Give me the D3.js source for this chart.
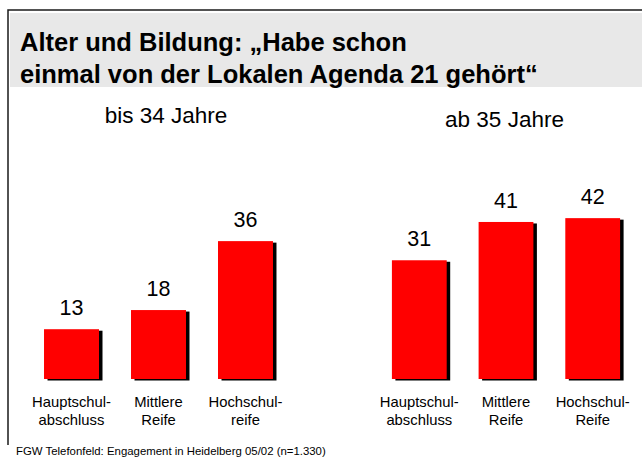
<!DOCTYPE html>
<html>
<head>
<meta charset="utf-8">
<script src="https://cdn.jsdelivr.net/npm/d3@7"></script>
<style>
  html, body { margin: 0; padding: 0; background: #fff; }
  svg { display: block; font-family: "Liberation Sans", Arial, sans-serif; }
</style>
</head>
<body>
<svg id="chart" width="642" height="458"></svg>
<script>
const titleLines = ["Alter und Bildung: \u201EHabe schon", "einmal von der Lokalen Agenda 21 geh\u00F6rt\u201C"];
const groupTitles = ["bis 34 Jahre", "ab 35 Jahre"];
const categoriesYoung = ["Hauptschul-|abschluss", "Mittlere|Reife", "Hochschul-|reife"];
const categoriesOld = ["Hauptschul-|abschluss", "Mittlere|Reife", "Hochschul-|Reife"];
const valuesYoung = [13, 18, 36];
const valuesOld = [31, 41, 42];
const footnote = "FGW Telefonfeld: Engagement in Heidelberg 05/02 (n=1.330)";

const svg = d3.select("#chart");

// frame
svg.append("rect").attr("x", 10).attr("y", 13).attr("width", 632).attr("height", 74).attr("fill", "#e8e8e8");
svg.append("path").attr("d", "M8,445 V10 H642").attr("fill", "none").attr("stroke", "#1a1a1a").attr("stroke-width", 1.5);

// title
svg.append("g").selectAll("text").data(titleLines).join("text")
  .attr("x", 20).attr("y", (d, i) => 51 + i * 32)
  .attr("font-size", 25.5).attr("font-weight", "bold").attr("fill", "#000")
  .text(d => d);

const y = d3.scaleLinear().domain([0, 100]).range([379, -4]);

const panels = [
  { title: groupTitles[0], cats: categoriesYoung, vals: valuesYoung, range: [12, 305], tx: 166, ty: 123 },
  { title: groupTitles[1], cats: categoriesOld, vals: valuesOld, range: [360, 652], tx: 504.5, ty: 126.5 }
];

panels.forEach(p => {
  const x = d3.scaleBand().domain(p.cats).range(p.range).padding(0.368);
  const data = p.cats.map((c, i) => ({ c, v: p.vals[i] }));
  const g = svg.append("g");

  g.append("text").attr("x", p.tx).attr("y", p.ty).attr("text-anchor", "middle")
    .attr("font-size", 22.5).attr("fill", "#000").text(p.title);

  // shadows
  g.selectAll("rect.sh").data(data).join("rect").attr("class", "sh")
    .attr("x", d => x(d.c) + 3.5).attr("y", d => y(d.v) + 1.5)
    .attr("width", x.bandwidth()).attr("height", d => y(0) - y(d.v))
    .attr("fill", "#000");
  // bars
  g.selectAll("rect.bar").data(data).join("rect").attr("class", "bar")
    .attr("x", d => x(d.c)).attr("y", d => y(d.v))
    .attr("width", x.bandwidth()).attr("height", d => y(0) - y(d.v))
    .attr("fill", "#ff0000");
  // values
  g.selectAll("text.val").data(data).join("text").attr("class", "val")
    .attr("x", d => x(d.c) + x.bandwidth() / 2).attr("y", d => y(d.v) - 14)
    .attr("text-anchor", "middle").attr("font-size", 21.5).attr("fill", "#000")
    .text(d => d.v);
  // category labels
  const lab = g.selectAll("text.cat").data(data).join("text").attr("class", "cat")
    .attr("text-anchor", "middle").attr("font-size", 14.8).attr("fill", "#000");
  lab.selectAll("tspan").data(d => d.c.split("|").map(s => ({ s, cx: x(d.c) + x.bandwidth() / 2 })))
    .join("tspan").attr("x", d => d.cx).attr("y", (d, i) => 407 + i * 18).text(d => d.s);
});

svg.append("text").attr("x", 16).attr("y", 455).attr("font-size", 11.4).attr("fill", "#000").text(footnote);
</script>
</body>
</html>
